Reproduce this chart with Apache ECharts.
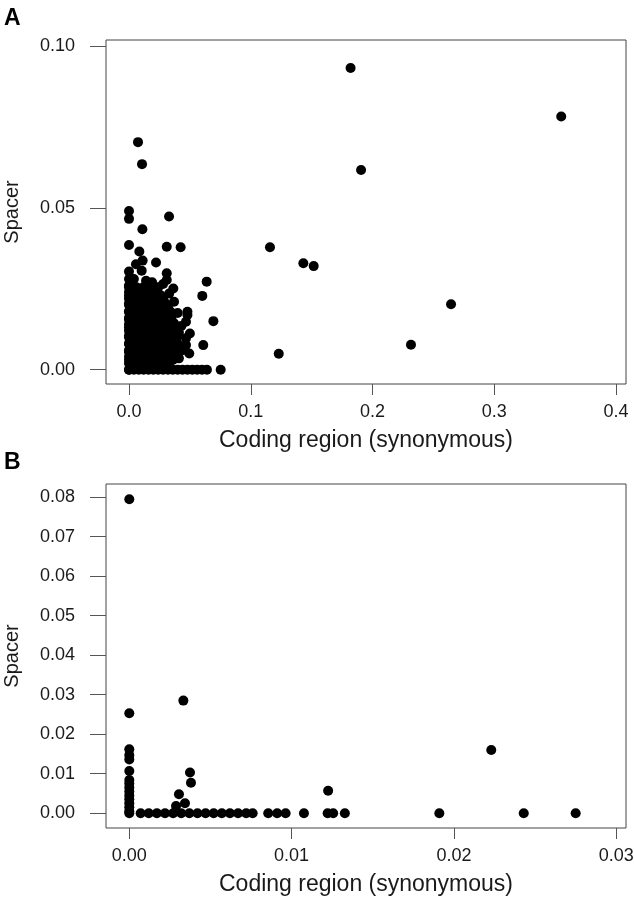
<!DOCTYPE html>
<html>
<head>
<meta charset="utf-8">
<script src="https://cdn.jsdelivr.net/npm/echarts@6/dist/echarts.min.js"></script>
<style>
html,body{margin:0;padding:0;background:#fff;}
#chart{width:634px;height:899px;}
</style>
</head>
<body>
<div id="chart"></div>
<script>
// ---------- Panel A data ----------
const aXTicks = [0, 0.1, 0.2, 0.3, 0.4];
const aYTicks = [0, 0.05, 0.10];
const aOutliers = [
  [0.182,0.0932],[0.355,0.0782],[0.1906,0.0617],[0.1158,0.0378],[0.1432,0.0329],
  [0.1517,0.0320],[0.2645,0.0202],[0.2316,0.0077],[0.123,0.0049],[0.0753,0]
];
const aScatter = [
  [0.0074,0.0703],[0.0107,0.0635],[0,0.049],[0,0.0466],[0.0329,0.0473],[0.011,0.0434],
  [0,0.0385],[0.031,0.038],[0.0424,0.0378],[0.0085,0.0365],[0.0057,0.0326],[0.0112,0.0337],
  [0.0222,0.0331],[0.0104,0.0306],[0,0.0303],[0.031,0.0298],[0.031,0.0277],[0.0638,0.0272],
  [0.0602,0.0228],[0.0364,0.0251],[0.0693,0.015],[0.048,0.0179],[0.048,0.0169],[0.0468,0.0148],
  [0.041,0.0115],[0.050,0.0112],[0.0468,0.0097],[0.0468,0.0076],[0.061,0.0076],[0.0495,0.005],
  [0.004,0.028],[0.014,0.0275],[0.019,0.027],[0.028,0.0265],[0.033,0.0235],[0.037,0.021],
  [0.040,0.0175],[0.043,0.0135],[0.044,0.006],[0.041,0.0035]
];
const aCluster = [
  [0,0.0255],[0.006,0.0255],[0.012,0.0255],[0.018,0.0255],[0.024,0.0255],
  [0,0.023],[0.005,0.023],[0.010,0.023],[0.015,0.023],[0.020,0.023],[0.026,0.023],
  [0,0.0205],[0.005,0.0205],[0.010,0.0205],[0.015,0.0205],[0.020,0.0205],[0.025,0.0205],[0.030,0.0205],
  [0,0.018],[0.005,0.018],[0.010,0.018],[0.015,0.018],[0.020,0.018],[0.025,0.018],[0.030,0.018],[0.034,0.018],
  [0,0.0155],[0.005,0.0155],[0.010,0.0155],[0.015,0.0155],[0.020,0.0155],[0.025,0.0155],[0.030,0.0155],[0.035,0.0155],
  [0,0.013],[0.005,0.013],[0.010,0.013],[0.015,0.013],[0.020,0.013],[0.025,0.013],[0.030,0.013],[0.035,0.013],[0.039,0.013],
  [0,0.0105],[0.005,0.0105],[0.010,0.0105],[0.015,0.0105],[0.020,0.0105],[0.025,0.0105],[0.030,0.0105],[0.035,0.0105],[0.040,0.0105],
  [0,0.008],[0.005,0.008],[0.010,0.008],[0.015,0.008],[0.020,0.008],[0.025,0.008],[0.030,0.008],[0.035,0.008],[0.040,0.008],
  [0,0.0055],[0.005,0.0055],[0.010,0.0055],[0.015,0.0055],[0.020,0.0055],[0.025,0.0055],[0.030,0.0055],[0.035,0.0055],[0.038,0.0055],
  [0,0.003],[0.005,0.003],[0.010,0.003],[0.015,0.003],[0.020,0.003],[0.025,0.003],[0.030,0.003],[0.036,0.003],
  [0.002,0.0015],[0.010,0.0015],[0.020,0.0015],[0.030,0.0015]
];
const aClusterFill = [
  [0.003,0.0243],[0.009,0.0243],[0.015,0.0243],[0.021,0.0243],
  [0.0025,0.0218],[0.0075,0.0218],[0.0125,0.0218],[0.0175,0.0218],[0.0225,0.0218],[0.028,0.0218],
  [0.0025,0.0193],[0.0075,0.0193],[0.0125,0.0193],[0.0175,0.0193],[0.0225,0.0193],[0.0275,0.0193],[0.032,0.0193],
  [0.0025,0.0168],[0.0075,0.0168],[0.0125,0.0168],[0.0175,0.0168],[0.0225,0.0168],[0.0275,0.0168],[0.0325,0.0168],
  [0.0025,0.0143],[0.0075,0.0143],[0.0125,0.0143],[0.0175,0.0143],[0.0225,0.0143],[0.0275,0.0143],[0.0325,0.0143],[0.037,0.0143],
  [0.0025,0.0118],[0.0075,0.0118],[0.0125,0.0118],[0.0175,0.0118],[0.0225,0.0118],[0.0275,0.0118],[0.0325,0.0118],[0.0375,0.0118],
  [0.0025,0.0093],[0.0075,0.0093],[0.0125,0.0093],[0.0175,0.0093],[0.0225,0.0093],[0.0275,0.0093],[0.0325,0.0093],[0.0375,0.0093],
  [0.0025,0.0068],[0.0075,0.0068],[0.0125,0.0068],[0.0175,0.0068],[0.0225,0.0068],[0.0275,0.0068],[0.0325,0.0068],[0.0375,0.0068],
  [0.0025,0.0043],[0.0075,0.0043],[0.0125,0.0043],[0.0175,0.0043],[0.0225,0.0043],[0.0275,0.0043],[0.0325,0.0043],
  [0.0025,0.0018],[0.0075,0.0018],[0.0125,0.0018],[0.0175,0.0018],[0.0225,0.0018],[0.0275,0.0018],[0.0325,0.0018]
];
const aZeroRowX = [0,0.004,0.008,0.012,0.016,0.020,0.024,0.028,0.032,0.036,0.040,0.044,0.048,0.052,0.056,0.060,0.064];
const aZeroColY = [0,0.002,0.004,0.006,0.008,0.010,0.012,0.014,0.016,0.018,0.020,0.022,0.024,0.026,0.028];

// ---------- Panel B data ----------
const bXTicks = [0, 0.01, 0.02, 0.03];
const bYTicks = [0, 0.01, 0.02, 0.03, 0.04, 0.05, 0.06, 0.07, 0.08];
const bZeroColY = [0.0795,0.0253,0.0162,0.0147,0.0136,0.0107,0.0084,0.0075,0.0065,0.0055,0.0045,0.0035,0.0025,0.0015,0.0005,0];
const bZeroRowX = [0.0007,0.0012,0.0017,0.0022,0.0027,0.0032,0.0037,0.0042,0.0047,0.0052,0.0057,0.0062,0.0067,0.0072,0.0076,
  0.00856,0.00911,0.00963,0.01076,0.01222,0.01256,0.01328,0.0191,0.0243,0.0275];
const bOthers = [
  [0.00306,0.0048],[0.00288,0.0018],[0.00343,0.0025],[0.00374,0.0103],[0.0038,0.0077],
  [0.00333,0.0285],[0.01225,0.0057],[0.0223,0.016]
];

// ---------- build ----------
const aData = [].concat(
  aOutliers, aScatter, aCluster, aClusterFill,
  aZeroRowX.map(x => [x, 0]),
  aZeroColY.map(y => [0, y])
);
const bData = [].concat(
  bZeroColY.map(y => [0, y]),
  bZeroRowX.map(x => [x, 0]),
  bOthers
);

const FONT = 'Liberation Sans, Arial, sans-serif';
const TXT = '#1a1a1a';
const LINE = '#555';

function xAx(gridIndex, min, max, ticks, digits) {
  return {
    type: 'value', gridIndex, min, max, position: 'bottom',
    name: 'Coding region (synonymous)', nameLocation: 'middle', nameGap: 45,
    nameTextStyle: { fontFamily: FONT, fontSize: 23, color: TXT },
    axisLine: { show: false, onZero: false },
    splitLine: { show: false },
    axisTick: { show: true, inside: false, length: 11, lineStyle: { color: LINE, width: 1 }, customValues: ticks },
    axisLabel: { show: true, inside: false, margin: 19, fontFamily: FONT, fontSize: 18, color: TXT,
      customValues: ticks, formatter: v => Number(v).toFixed(digits) }
  };
}
function yAx(gridIndex, min, max, ticks) {
  return {
    type: 'value', gridIndex, min, max, position: 'left',
    name: 'Spacer', nameLocation: 'middle', nameGap: 84, nameRotate: 90,
    nameTextStyle: { fontFamily: FONT, fontSize: 20, color: TXT },
    axisLine: { show: false, onZero: false },
    splitLine: { show: false },
    axisTick: { show: true, inside: false, length: 16, lineStyle: { color: LINE, width: 1 }, customValues: ticks },
    axisLabel: { show: true, inside: false, margin: 31, fontFamily: FONT, fontSize: 18, color: TXT,
      customValues: ticks, formatter: v => Number(v).toFixed(2) }
  };
}

const chart = echarts.init(document.getElementById('chart'), null, { renderer: 'canvas' });
chart.setOption({
  animation: false,
  backgroundColor: '#fff',
  grid: [
    { left: 106, top: 40, width: 520, height: 344, containLabel: false, outerBoundsMode: 'none',
      show: true, borderColor: '#444', borderWidth: 1, backgroundColor: 'transparent' },
    { left: 106, top: 484, width: 520, height: 344, containLabel: false, outerBoundsMode: 'none',
      show: true, borderColor: '#444', borderWidth: 1, backgroundColor: 'transparent' }
  ],
  xAxis: [
    xAx(0, -0.01889, 0.4082, aXTicks, 1),
    xAx(1, -0.001435, 0.0306, bXTicks, 2)
  ],
  yAxis: [
    yAx(0, -0.00442, 0.10185, aYTicks),
    yAx(1, -0.003747, 0.08334, bYTicks)
  ],
  graphic: [
    { type: 'text', left: 4, top: 7, style: { text: 'A', font: 'bold 23px ' + FONT, fill: '#000' } },
    { type: 'text', left: 4, top: 451, style: { text: 'B', font: 'bold 23px ' + FONT, fill: '#000' } }
  ],
  series: [
    { type: 'scatter', xAxisIndex: 0, yAxisIndex: 0, data: aData, symbol: 'circle', symbolSize: 10,
      itemStyle: { color: '#000', opacity: 1 }, silent: true },
    { type: 'scatter', xAxisIndex: 1, yAxisIndex: 1, data: bData, symbol: 'circle', symbolSize: 10,
      itemStyle: { color: '#000', opacity: 1 }, silent: true }
  ]
});
</script>
</body>
</html>
